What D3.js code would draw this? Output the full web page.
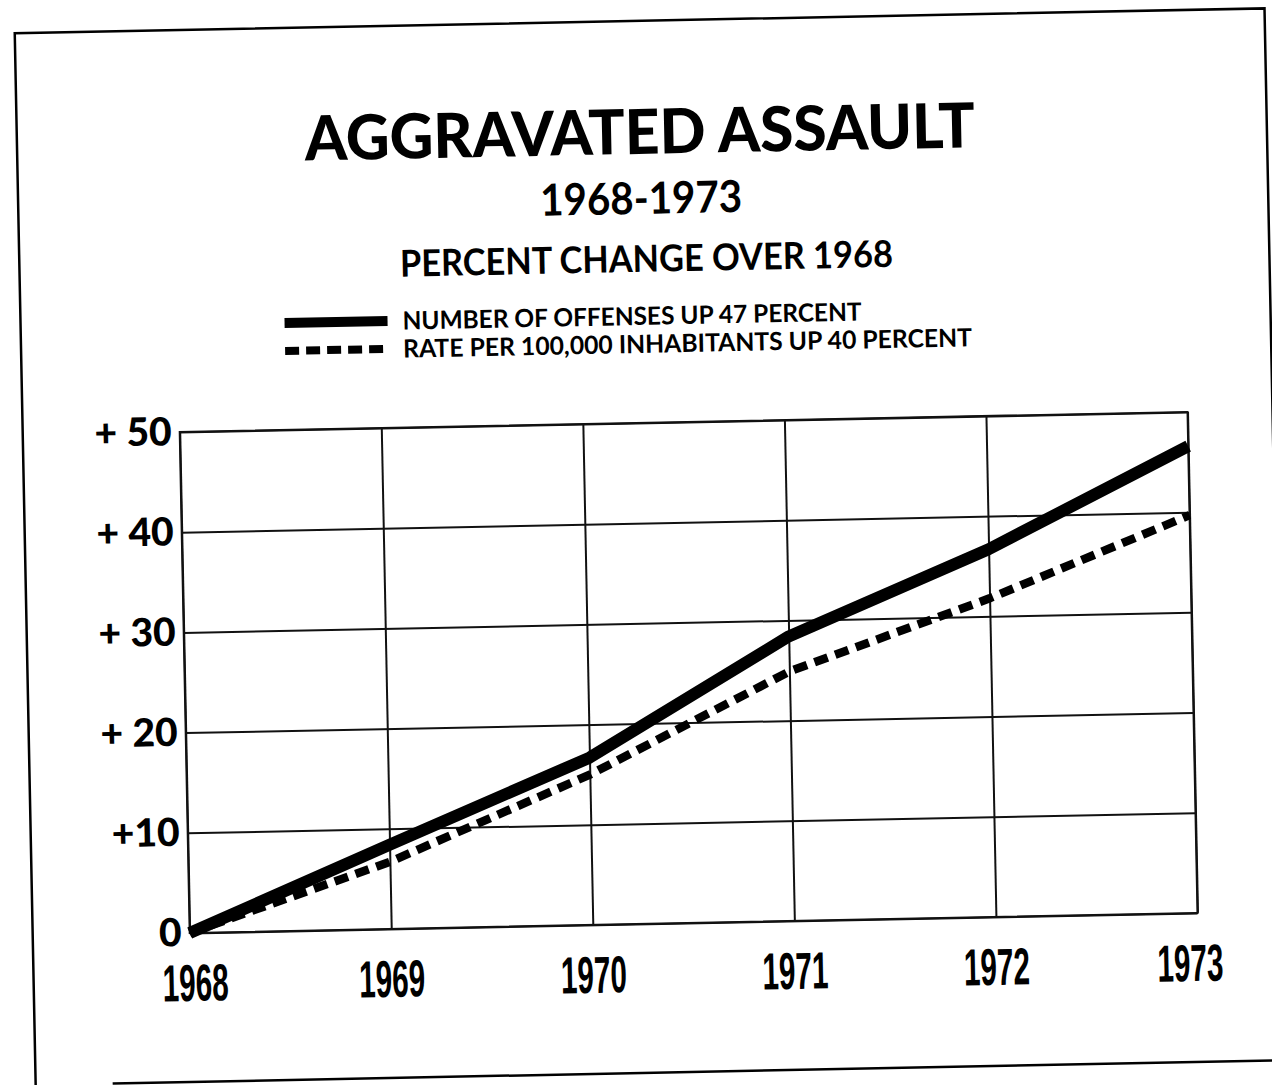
<!DOCTYPE html>
<html>
<head>
<meta charset="utf-8">
<script src="https://cdn.jsdelivr.net/npm/d3@7"></script>
<style>
	body { margin: 0; background: #fff; }
	svg { display: block; }
	.grid line { stroke: #111; stroke-width: 2; }
	.grid path { display: none; }
	.ylab path, .ylab line { display: none; }
	.ylab text { font-family: Lato, "DejaVu Sans", sans-serif; font-weight: 900; font-size: 39px; fill: #000; }
</style>
</head>
<body>
<div id="chart"></div>
<script>
// values
var years = [1968, 1969, 1970, 1971, 1972, 1973];
var offenses = [0, 8.4, 16.7, 28.4, 36.7, 46.6];		/*number of offenses, % over 1968*/
var ratePer100k = [0, 6.7, 15.0, 24.9, 31.8, 39.7];	/*rate per 100,000 inhabitants*/
var yTicks = [0, 10, 20, 30, 40, 50];
var yTickLabels = ["0", "+10", "+ 20", "+ 30", "+ 40", "+ 50"];
var legendLabels = ["NUMBER OF OFFENSES UP  47  PERCENT", "RATE PER 100,000 INHABITANTS UP  40  PERCENT"];

var W = 1272, H = 1085;
var svg = d3.select("#chart").append("svg")
	.attr("width", W)
	.attr("height", H);

// the page was scanned a little crooked, so tilt everything
var g = svg.append("g").attr("transform", "rotate(-1.14," + W / 2 + "," + H / 2 + ")");

// outer frame of the page
g.append("path")
	.attr("d", "M25,1100 L25,21 L1275,21 L1275,530")
	.attr("fill", "none").attr("stroke", "#000").attr("stroke-width", 2.5);
g.append("line")
	.attr("x1", 102).attr("y1", 1073).attr("x2", 1290).attr("y2", 1073)
	.attr("stroke", "#000").attr("stroke-width", 2.5);

// titles
g.append("text").text("AGGRAVATED  ASSAULT")
	.attr("x", 648).attr("y", 154).attr("text-anchor", "middle")
	.attr("textLength", 670).attr("lengthAdjust", "spacingAndGlyphs")
	.style("font-family", "Lato, sans-serif").style("font-weight", 900).style("font-size", "62px");
g.append("text").text("1968-1973")
	.attr("x", 648).attr("y", 214).attr("text-anchor", "middle")
	.attr("textLength", 202).attr("lengthAdjust", "spacingAndGlyphs")
	.style("font-family", "Lato, sans-serif").style("font-weight", 700).style("font-size", "44px");
g.append("text").text("PERCENT CHANGE OVER  1968")
	.attr("x", 652).attr("y", 272).attr("text-anchor", "middle")
	.attr("textLength", 493).attr("lengthAdjust", "spacingAndGlyphs")
	.style("font-family", "Lato, sans-serif").style("font-weight", 700).style("font-size", "37px");

// legend
var legendY = [316, 344];
var legendW = [459, 569];
g.append("line")
	.attr("x1", 289).attr("x2", 392).attr("y1", legendY[0]).attr("y2", legendY[0])
	.attr("stroke", "#000").attr("stroke-width", 10);
g.append("line")
	.attr("x1", 289).attr("x2", 392).attr("y1", legendY[1]).attr("y2", legendY[1])
	.attr("stroke", "#000").attr("stroke-width", 8).attr("stroke-dasharray", "14,7");
g.selectAll(".legtext").data(legendLabels).enter().append("text")
	.attr("class", "legtext")
	.attr("x", 407)
	.attr("y", function (d, i) { return legendY[i] + 9; })
	.attr("textLength", function (d, i) { return legendW[i]; })
	.attr("lengthAdjust", "spacingAndGlyphs")
	.style("font-family", "Lato, sans-serif").style("font-weight", 700).style("font-size", "25px")
	.text(function (d) { return d; });

// plot
var x = d3.scaleLinear().domain([1968, 1973]).range([182, 1190]);
var y = d3.scaleLinear().domain([0, 50]).range([924, 423]);

g.append("g").attr("class", "grid")
	.attr("transform", "translate(0," + y(0) + ")")
	.call(d3.axisBottom(x).tickValues(years).tickSize(-(y(0) - y(50))).tickFormat(""));
g.append("g").attr("class", "grid")
	.attr("transform", "translate(" + x(1968) + ",0)")
	.call(d3.axisLeft(y).tickValues(yTicks).tickSize(-(x(1973) - x(1968))).tickFormat(""));
g.append("rect")
	.attr("x", x(1968)).attr("y", y(50))
	.attr("width", x(1973) - x(1968)).attr("height", y(0) - y(50))
	.attr("fill", "none").attr("stroke", "#111").attr("stroke-width", 2);

g.append("g").attr("class", "ylab")
	.attr("transform", "translate(" + x(1968) + ",0)")
	.call(d3.axisLeft(y).tickValues(yTicks).tickSize(0).tickPadding(8)
		.tickFormat(function (d, i) { return yTickLabels[i]; }));

// year labels, condensed face
g.selectAll(".xlab").data(years).enter().append("text")
	.attr("class", "xlab")
	.attr("x", function (d, i) { return x(d) + (i == 0 ? 5 : (i == years.length - 1 ? -8 : 0)); })
	.attr("y", 992)
	.attr("text-anchor", "middle")
	.attr("textLength", 66).attr("lengthAdjust", "spacingAndGlyphs")
	.style("font-family", "'Liberation Sans Narrow', 'Liberation Sans', sans-serif")
	.style("font-weight", 700).style("font-size", "52px")
	.text(function (d) { return d; });

// series
var line = d3.line()
	.x(function (d, i) { return x(years[i]); })
	.y(function (d) { return y(d); });

g.append("path").datum(ratePer100k)
	.attr("d", line)
	.attr("fill", "none").attr("stroke", "#000")
	.attr("stroke-width", 8.5).attr("stroke-dasharray", "14,8");
g.append("path").datum(offenses)
	.attr("d", line)
	.attr("fill", "none").attr("stroke", "#000")
	.attr("stroke-width", 12).attr("stroke-linejoin", "round");
</script>
</body>
</html>
